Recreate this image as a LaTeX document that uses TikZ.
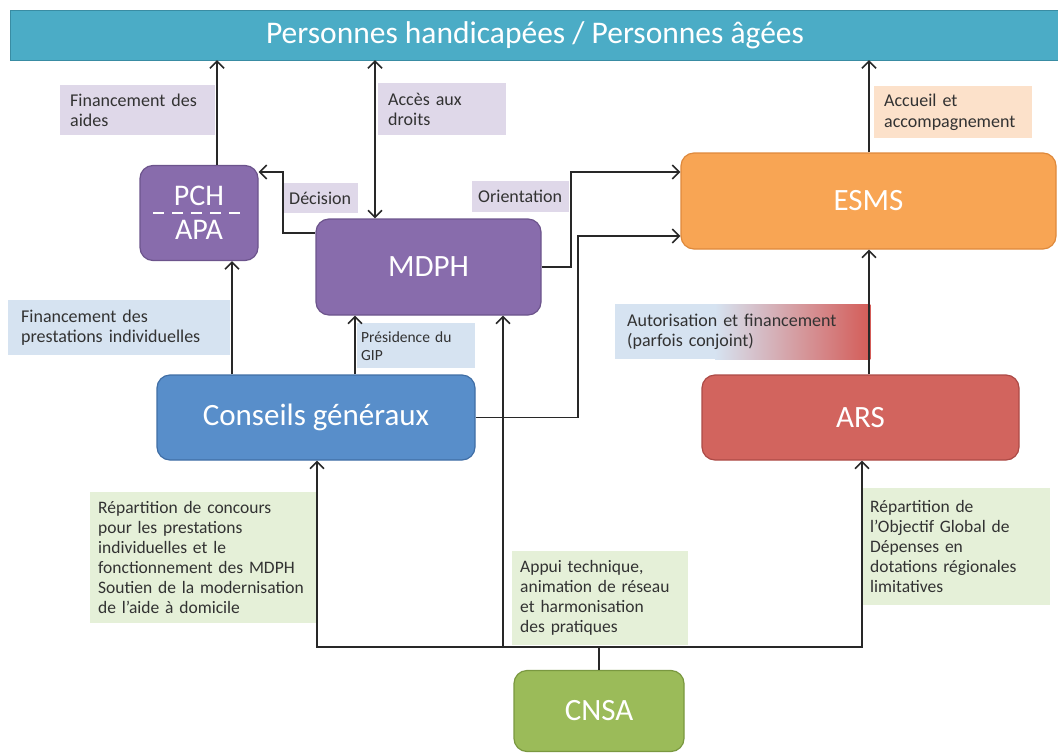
\documentclass[tikz,border=0pt]{standalone}
\usepackage{fontspec}
\setmainfont{Carlito}
\usetikzlibrary{arrows.meta,backgrounds}
\definecolor{barfill}{RGB}{75,172,198}
\definecolor{bardraw}{RGB}{57,140,163}
\definecolor{purfill}{RGB}{136,108,172}
\definecolor{purdraw}{RGB}{108,84,140}
\definecolor{orafill}{RGB}{248,165,84}
\definecolor{oradraw}{RGB}{222,137,60}
\definecolor{blufill}{RGB}{88,142,202}
\definecolor{bludraw}{RGB}{64,110,165}
\definecolor{redfill}{RGB}{210,100,94}
\definecolor{reddraw}{RGB}{172,74,70}
\definecolor{grefill}{RGB}{155,187,89}
\definecolor{gredraw}{RGB}{122,152,64}
\definecolor{lavlbl}{RGB}{223,216,233}
\definecolor{peachlbl}{RGB}{252,225,202}
\definecolor{bluelbl}{RGB}{214,227,241}
\definecolor{greenlbl}{RGB}{229,240,216}
\definecolor{redlbl}{RGB}{212,92,88}
\definecolor{midlbl}{RGB}{205,170,185}
\definecolor{txt}{RGB}{50,50,50}
\definecolor{linec}{RGB}{40,40,40}
\begin{document}
\begin{tikzpicture}[x=1pt,y=-1pt,
  box/.style={rounded corners=13pt, line width=1.2pt, text=white, align=center,
    font=\fontsize{31}{34}\selectfont, inner sep=0pt},
  lbl/.style={anchor=north west, align=left, text=txt, inner ysep=0pt,
    font=\fontsize{18}{20.5}\selectfont},
  glbl/.style={lbl, fill=greenlbl, font=\fontsize{17.5}{20}\selectfont},
  conn/.style={draw=linec, line width=1.4pt},
  arr/.style={conn, -{Straight Barb[length=7pt,width=14pt,line width=1.6pt]}},
  darr/.style={conn, {Straight Barb[length=7pt,width=14pt,line width=1.6pt]}-{Straight Barb[length=7pt,width=14pt,line width=1.6pt]}}
]
\useasboundingbox (0,0) rectangle (1058,753);

% labels
\node[lbl, fill=lavlbl, text width=135pt, inner xsep=10pt, minimum height=50pt] (finaides) at (60,85) {Financement des\\aides};
\node[lbl, fill=lavlbl, text width=108pt, inner xsep=10pt, minimum height=52pt] (acces) at (378,83) {Accès aux\\droits};
\node[lbl, fill=peachlbl, text width=138pt, inner xsep=10pt, minimum height=52pt] (accueil) at (874,86) {Accueil et\\accompagnement};
\node[lbl, fill=lavlbl, text width=63pt, inner xsep=6pt, minimum height=30pt] (decision) at (283,183) {Décision};
\node[lbl, fill=lavlbl, text width=85pt, inner xsep=6pt, minimum height=31pt] (orient) at (472,181) {Orientation};
\node[lbl, fill=bluelbl, text width=196pt, inner xsep=13pt, minimum height=55pt] (finprest) at (8,300) {Financement des\\prestations individuelles};
\node[lbl, fill=bluelbl, text width=110pt, inner xsep=4pt, minimum height=45pt, font=\fontsize{15.5}{18}\selectfont] (presid) at (357,323) {Présidence du\\GIP};
\node[lbl, text width=231pt, inner xsep=12pt, minimum height=55pt] (autor) at (615,304) {Autorisation et financement\\(parfois conjoint)};
\node[glbl, text width=211pt, inner xsep=8pt, minimum height=131pt] (repconc) at (90,492) {Répartition de concours\\pour les prestations\\individuelles et le\\fonctionnement des MDPH\\Soutien de la modernisation\\de l’aide à domicile};
\node[glbl, text width=160pt, inner xsep=8pt, minimum height=94pt] (appui) at (512,551) {Appui technique,\\animation de réseau\\et harmonisation\\des pratiques};
\node[glbl, text width=172pt, inner xsep=8pt, minimum height=117pt] (repogd) at (862,488) {Répartition de\\l’Objectif Global de\\Dépenses en\\dotations régionales\\limitatives};
\begin{pgfonlayer}{background}
  \fill[bluelbl] (autor.north west) rectangle (715,359);
  \shade[left color=bluelbl, middle color=midlbl, right color=redlbl] (715,304) rectangle (autor.south east);
\end{pgfonlayer}

% boxes
\node[draw=bardraw, fill=barfill, minimum width=1050pt, minimum height=50pt, text=white, inner sep=0pt, font=\fontsize{31.5}{34}\selectfont] (bar) at (535,35) {Personnes handicapées / Personnes âgées};
\node[box, draw=purdraw, fill=purfill, minimum width=118pt, minimum height=95pt, font=\fontsize{30}{34}\selectfont] (pch) at (199,213) {PCH\\APA};
\draw[white, line width=2pt, dash pattern=on 11pt off 8pt] (153,213) -- (243,213);
\node[box, draw=purdraw, fill=purfill, minimum width=225pt, minimum height=96pt] (mdph) at (428.5,267) {MDPH};
\node[box, draw=oradraw, fill=orafill, minimum width=375pt, minimum height=96pt] (esms) at (868.5,201) {ESMS};
\node[box, draw=bludraw, fill=blufill, minimum width=318pt, minimum height=85pt] (cg) at (316,417.5) {Conseils généraux};
\node[box, draw=reddraw, fill=redfill, minimum width=317pt, minimum height=85pt] (ars) at (860.5,417.5) {ARS};
\node[box, draw=gredraw, fill=grefill, minimum width=170pt, minimum height=81pt] (cnsa) at (599,711) {CNSA};

% helper coordinates
\coordinate (x217) at (217,0);
\coordinate (x375) at (375,0);
\coordinate (x870) at (869,0);
\coordinate (x232) at (232,0);
\coordinate (x355) at (355,0);
\coordinate (x317) at (317,0);
\coordinate (x503) at (503,0);
\coordinate (x862) at (862,0);
\coordinate (dec) at (283,172);
\coordinate (ori) at (571,172);
\coordinate (cge) at (578,236);
\coordinate (hub) at (599,647);

% connectors
\draw[arr] (pch.north -| x217) -- (bar.south -| x217);
\draw[darr] (mdph.north -| x375) -- (bar.south -| x375);
\draw[arr] (esms.north -| x870) -- (bar.south -| x870);
\draw[arr] ([yshift=34pt]mdph.west) -| (dec) -- (pch.east |- dec);
\draw[arr] (mdph.east) -| (ori) -- (esms.west |- ori);
\draw[arr] (cg.east) -| (cge) -- (esms.west |- cge);
\draw[arr] (cg.north -| x232) -- (pch.south -| x232);
\draw[arr] (cg.north -| x355) -- (mdph.south -| x355);
\draw[arr] (ars.north -| x870) -- (esms.south -| x870);
\draw[conn] (cnsa.north) -- (hub);
\draw[arr] (hub) -| (cg.south -| x317);
\draw[arr] (hub) -| (mdph.south -| x503);
\draw[arr] (hub) -| (ars.south -| x862);
\end{tikzpicture}
\end{document}
